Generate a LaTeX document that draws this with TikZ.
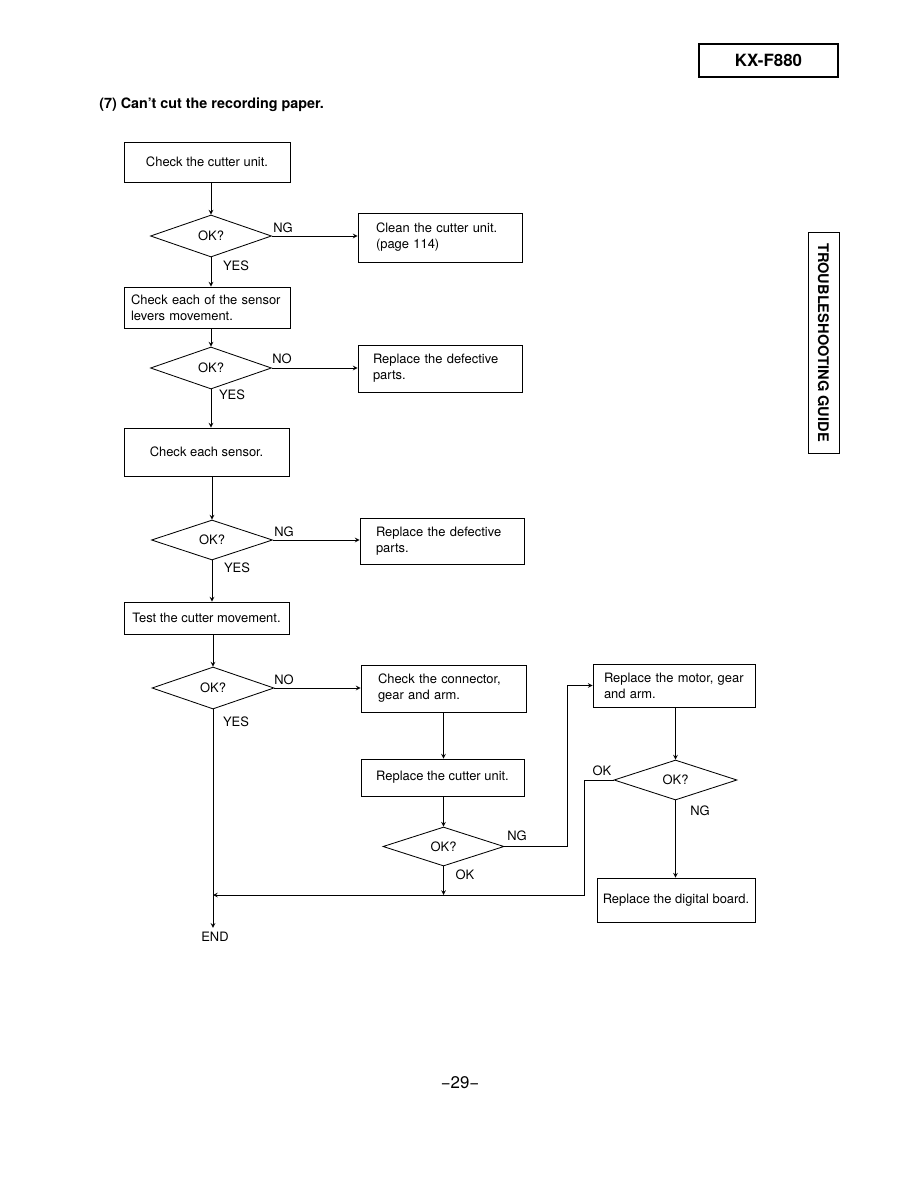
\documentclass[tikz,border=0pt]{standalone}
\usepackage{fontspec}
\setmainfont{TeX Gyre Heros}
\usepackage{tikz}
\usetikzlibrary{shapes}
\usetikzlibrary{arrows}
\newcommand{\pxl}{0.025cm}
\tikzset{
  flownode/.style = {draw=black, line width=0.6pt, inner sep=0pt,
    font=\fontsize{9.2}{11.4}\selectfont},
  chk_box/.style = {flownode, rectangle, align=center},% boite, texte centre
  txt_box/.style = {flownode, rectangle, align=left},% boite, texte a gauche
  ok_dia/.style = {flownode, diamond, minimum width=121*\pxl,
    minimum height=42*\pxl},% test OK?
  branch_lbl/.style = {inner sep=0pt, font=\fontsize{9.2}{11}\selectfont},
  flow_arr/.style = {draw=black, line width=0.5pt, -stealth}
}

\begin{document}
\begin{tikzpicture}[x=\pxl, y=-\pxl]
  \useasboundingbox (0,0) rectangle (918,1188);

  % en-tete de page
  \node [draw=black, line width=0.8pt, minimum width=139*\pxl, minimum height=33*\pxl,
    font=\bfseries\fontsize{12}{14}\selectfont] (model) at (768.5,60.5) {KX-F880};
  \node [anchor=west, inner sep=0pt, font=\bfseries\fontsize{10.2}{13}\selectfont]
    (title) at (99,105) {(7) Can't cut the recording paper.};
  \node [draw=black, line width=0.6pt, rotate=-90, minimum width=221*\pxl,
    minimum height=31*\pxl, font=\bfseries\fontsize{10.4}{12}\selectfont]
    (tab) at (823.5,342.5) {TROUBLESHOOTING GUIDE};

  % colonne principale
  \node [chk_box, minimum width=166*\pxl, minimum height=40*\pxl] (cutter) at (207,162) {Check the cutter unit.};
  \node [ok_dia] (ok1) at (211,236) {OK?};
  \node [txt_box, text width=128*\pxl, inner xsep=18*\pxl, minimum height=49*\pxl] (clean) at (440,237.5)
    {Clean the cutter unit.\\(page 114)};
  \node [txt_box, text width=152*\pxl, inner xsep=7*\pxl, minimum height=41*\pxl] (levers) at (207,307.5)
    {Check each of the sensor\\levers movement.};
  \node [ok_dia] (ok2) at (211,368) {OK?};
  \node [txt_box, text width=134*\pxl, inner xsep=15*\pxl, minimum height=47*\pxl] (defect1) at (440,368.5)
    {Replace the defective\\parts.};
  \node [chk_box, minimum width=165*\pxl, minimum height=48*\pxl] (sensor) at (206.5,452) {Check each sensor.};
  \node [ok_dia, minimum height=40*\pxl] (ok3) at (212,540) {OK?};
  \node [txt_box, text width=132*\pxl, inner xsep=16*\pxl, minimum height=46*\pxl] (defect2) at (442,541)
    {Replace the defective\\parts.};
  \node [chk_box, minimum width=165*\pxl, minimum height=32*\pxl] (move) at (206.5,618) {Test the cutter movement.};
  \node [ok_dia, minimum width=122*\pxl] (ok4) at (213,688) {OK?};
  \node [branch_lbl, inner ysep=3pt] (end) at (215,937) {END};

  % branche de droite
  \node [txt_box, text width=131*\pxl, inner xsep=17*\pxl, minimum height=47*\pxl] (connect) at (443.5,688.5)
    {Check the connector,\\gear and arm.};
  \node [chk_box, minimum width=163*\pxl, minimum height=37*\pxl] (unit) at (442.5,777.5) {Replace the cutter unit.};
  \node [ok_dia, minimum height=39*\pxl] (ok5) at (443.5,846.5) {OK?};
  \node [txt_box, text width=140*\pxl, inner xsep=11*\pxl, minimum height=43*\pxl] (motor) at (674,685.5)
    {Replace the motor, gear\\and arm.};
  \node [ok_dia, minimum width=123*\pxl, minimum height=40*\pxl] (ok6) at (675.5,780) {OK?};
  \node [chk_box, minimum width=158*\pxl, minimum height=44*\pxl] (board) at (676,900) {Replace the digital board.};
  \coordinate (merge) at (213,895);

  % etiquettes
  \node [branch_lbl] (ng1) at (283,228) {NG};
  \node [branch_lbl] (yes1) at (236,266) {YES};
  \node [branch_lbl] (no2) at (282,359) {NO};
  \node [branch_lbl] (yes2) at (232,395) {YES};
  \node [branch_lbl] (ng3) at (284,532) {NG};
  \node [branch_lbl] (yes3) at (237,568) {YES};
  \node [branch_lbl] (no4) at (284,680) {NO};
  \node [branch_lbl] (yes4) at (236,722) {YES};
  \node [branch_lbl] (ng5) at (517,836) {NG};
  \node [branch_lbl] (ok5lbl) at (465,875) {OK};
  \node [branch_lbl] (ok6lbl) at (602,771) {OK};
  \node [branch_lbl] (ng6) at (700,811) {NG};

  % liaisons
  \draw [flow_arr] (ok1.north |- cutter.south) -- (ok1.north);
  \draw [flow_arr] (ok1.east) -- (ok1.east -| clean.west);
  \draw [flow_arr] (ok1.south) -- (ok1.south |- levers.north);
  \draw [flow_arr] (ok2.north |- levers.south) -- (ok2.north);
  \draw [flow_arr] (ok2.east) -- (ok2.east -| defect1.west);
  \draw [flow_arr] (ok2.south) -- (ok2.south |- sensor.north);
  \draw [flow_arr] (ok3.north |- sensor.south) -- (ok3.north);
  \draw [flow_arr] (ok3.east) -- (ok3.east -| defect2.west);
  \draw [flow_arr] (ok3.south) -- (ok3.south |- move.north);
  \draw [flow_arr] (ok4.north |- move.south) -- (ok4.north);
  \draw [flow_arr] (ok4.east) -- (ok4.east -| connect.west);
  \draw [flow_arr] (ok4.south) -- (ok4.south |- end.north);
  \draw [flow_arr] (connect.south) -- (connect.south |- unit.north);
  \draw [flow_arr] (ok5.north |- unit.south) -- (ok5.north);
  \draw [flow_arr] (ok5.east) -- ++(63,0) |- (motor.west);
  \draw [flow_arr] (ok5.south) -- (ok5.south |- merge);
  \draw [flow_arr] (ok6.north |- motor.south) -- (ok6.north);
  \draw [flow_arr] (ok6.south) -- (ok6.south |- board.north);
  \draw [flow_arr] (ok6.west) -- ++(-29,0) |- (merge);

  % numero de page
  \node [inner sep=0pt, font=\fontsize{12}{14}\selectfont] (page) at (460,1083) {−29−};
\end{tikzpicture}
\end{document}
